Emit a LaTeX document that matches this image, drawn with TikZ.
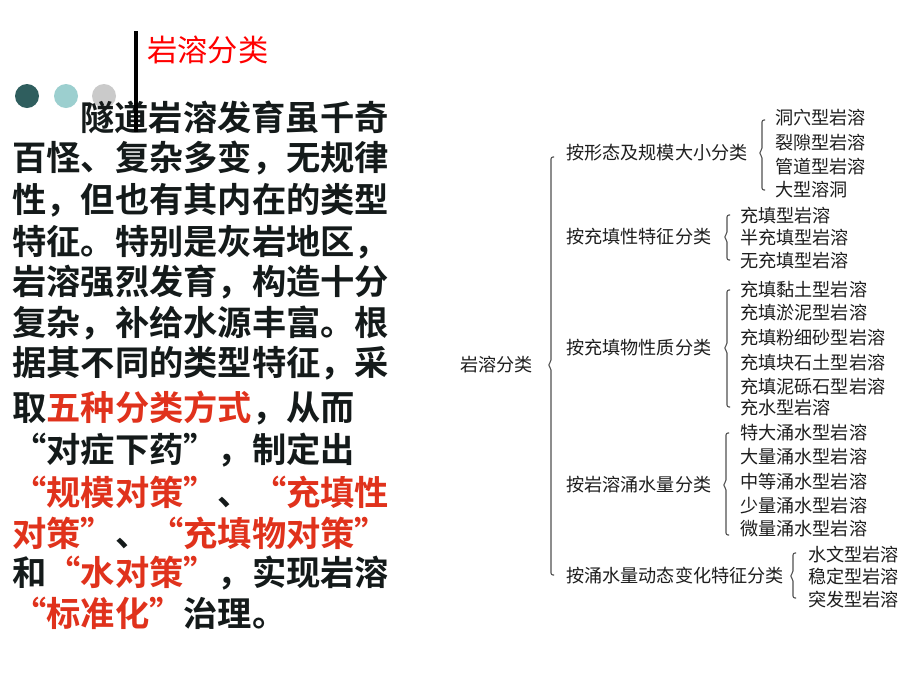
\documentclass[tikz,border=0pt]{standalone}
\usepackage{fontspec}
\newfontfamily\cjkbold{Noto Sans CJK SC Bold}
\newfontfamily\cjkreg{Noto Sans CJK SC}
\definecolor{bodyblack}{HTML}{141A1A}
\definecolor{bodyred}{HTML}{E0321C}
\definecolor{titlered}{HTML}{FF0000}
\definecolor{treecol}{HTML}{1E1E1E}
\definecolor{bracecol}{HTML}{505050}
\definecolor{dotA}{HTML}{2F5E5E}
\definecolor{dotB}{HTML}{9CCFCF}
\definecolor{dotC}{HTML}{CACACA}
\newcommand\kbrace[4]{%
  \draw[bracestyle] ({#1+3},#2) -- (#1,#2) -- (#1,{#3-3}) -- ({#1-3},#3) -- (#1,{#3+3}) -- (#1,#4) -- ({#1+3},#4);}
\begin{document}
\begin{tikzpicture}[x=0.75pt,y=-0.75pt,
  bodyline/.style={anchor=west,inner sep=0pt,text=bodyblack,font=\cjkbold\fontsize{25.7pt}{30pt}\selectfont},
  tnode/.style={anchor=west,inner sep=0pt,text=treecol,font=\cjkreg\fontsize{13.6pt}{16pt}\selectfont},
  bracestyle/.style={draw=bracecol,line width=0.8pt,rounded corners=1.5pt},
  dot/.style={circle,minimum size=18pt,inner sep=0pt}]
\useasboundingbox[fill=white] (0,0) rectangle (920,690);
\node[anchor=west,inner sep=0pt,text=titlered,font=\cjkreg\fontsize{22.7pt}{26pt}\selectfont] (title) at (147,50) {岩溶分类};
\node[dot,fill=dotA] (d1) at (27,96) {};
\node[dot,fill=dotB] (d2) at (66,96) {};
\node[dot,fill=dotC] (d3) at (104,96) {};
% body text
\newcommand\R[1]{\textcolor{bodyred}{#1}}
\node[bodyline] (l1) at (80,117) {隧道岩溶发育虽千奇};
\node[bodyline] (l2) at (12,158) {百怪、复杂多变，无规律};
\node[bodyline] (l3) at (12,200) {性，但也有其内在的类型};
\node[bodyline] (l4) at (12,242) {特征。特别是灰岩地区，};
\node[bodyline] (l5) at (12,282) {岩溶强烈发育，构造十分};
\node[bodyline] (l6) at (12,323) {复杂，补给水源丰富。根};
\node[bodyline] (l7) at (12,363) {据其不同的类型特征，采};
\node[bodyline] (l8) at (12,408) {取\R{五种分类方式}，从而};
\node[bodyline] (l9) at (12,450) {“对症下药”，制定出};
\node[bodyline] (l10) at (12,492) {\R{“规模对策”}、\R{“充填性}};
\node[bodyline] (l11) at (12,533) {\R{对策”}、\R{“充填物对策”}};
\node[bodyline] (l12) at (12,573) {和\R{“水对策”}，实现岩溶};
\node[bodyline] (l13) at (12,613) {\R{“标准化”}治理。};
% title bar (on top of text)
\draw[line width=2.4pt,black] (136,31) coordinate (vt) -- (136,132) coordinate (vb);
% tree
\node[tnode] (root) at (460,365) {岩溶分类};
\kbrace{551}{157}{365}{575}
\node[tnode] (c1) at (566,153) {按形态及规模大小分类};
\node[tnode] (c2) at (566,237) {按充填性特征分类};
\node[tnode] (c3) at (566,348) {按充填物性质分类};
\node[tnode] (c4) at (566,485) {按岩溶涌水量分类};
\node[tnode] (c5) at (566,576) {按涌水量动态变化特征分类};
% group 1
\kbrace{762}{120}{153}{190}
\node[tnode] (a1) at (775,118) {洞穴型岩溶};
\node[tnode] (a2) at (775,143) {裂隙型岩溶};
\node[tnode] (a3) at (775,167) {管道型岩溶};
\node[tnode] (a4) at (775,190) {大型溶洞};
% group 2
\kbrace{727}{215}{237}{260}
\node[tnode] (b1) at (740,216) {充填型岩溶};
\node[tnode] (b2) at (740,238) {半充填型岩溶};
\node[tnode] (b3) at (740,261) {无充填型岩溶};
% group 3
\kbrace{727}{290}{348}{407}
\node[tnode] (e1) at (740,290) {充填黏土型岩溶};
\node[tnode] (e2) at (740,313) {充填淤泥型岩溶};
\node[tnode] (e3) at (740,338) {充填粉细砂型岩溶};
\node[tnode] (e4) at (740,363) {充填块石土型岩溶};
\node[tnode] (e5) at (740,387) {充填泥砾石型岩溶};
\node[tnode] (e6) at (740,408) {充水型岩溶};
% group 4
\kbrace{726}{433}{485}{535}
\node[tnode] (f1) at (740,433) {特大涌水型岩溶};
\node[tnode] (f2) at (740,457) {大量涌水型岩溶};
\node[tnode] (f3) at (740,482) {中等涌水型岩溶};
\node[tnode] (f4) at (740,506) {少量涌水型岩溶};
\node[tnode] (f5) at (740,529) {微量涌水型岩溶};
% group 5
\kbrace{793}{553}{576}{598}
\node[tnode] (g1) at (808,555) {水文型岩溶};
\node[tnode] (g2) at (808,577) {稳定型岩溶};
\node[tnode] (g3) at (808,600) {突发型岩溶};
\end{tikzpicture}
\end{document}
